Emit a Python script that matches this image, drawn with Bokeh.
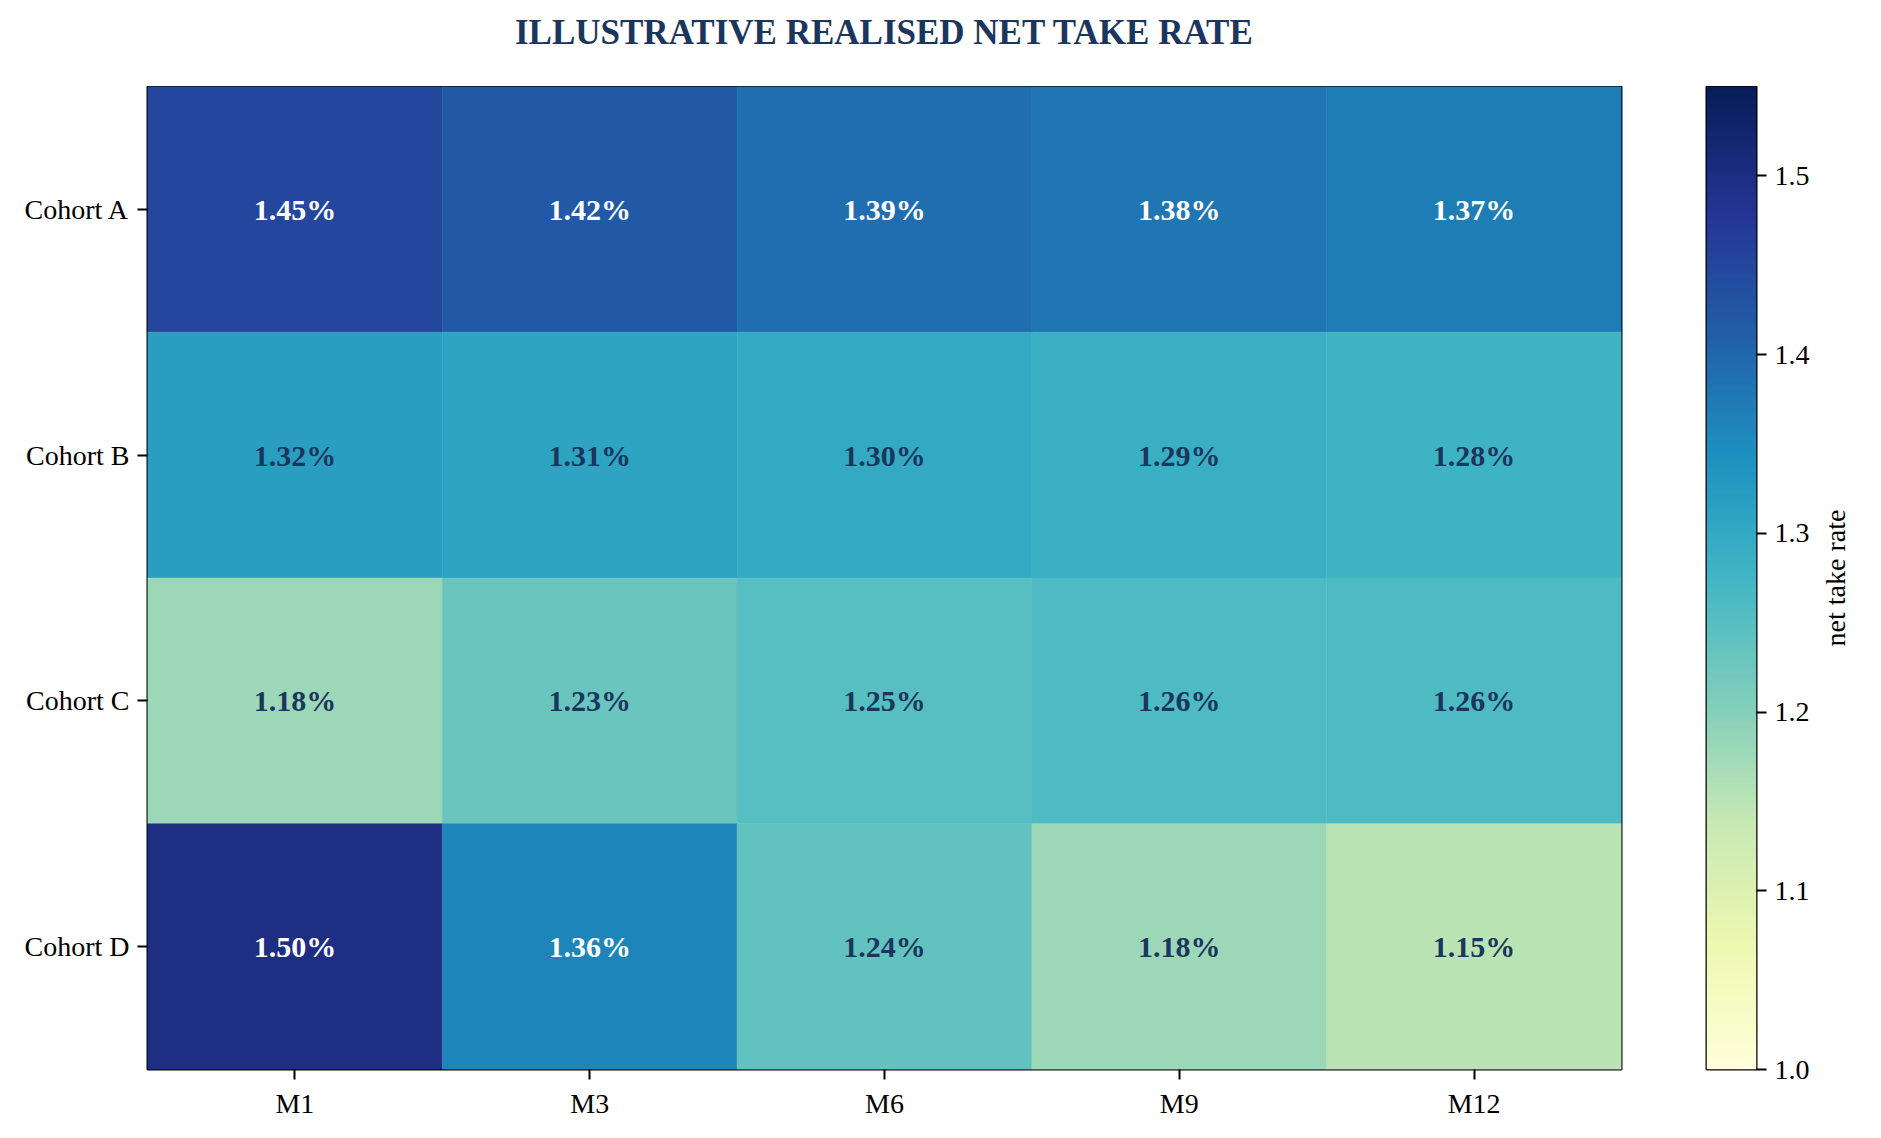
import numpy as np
from bokeh.plotting import figure
from bokeh.layouts import row, column
from bokeh.models import (ColumnDataSource, LinearColorMapper, FixedTicker,
                          PrintfTickFormatter, Range1d)
from bokeh.core.properties import value
from bokeh.embed import file_html
from bokeh.resources import INLINE

# ---------------- data ----------------
cohorts = ["Cohort A", "Cohort B", "Cohort C", "Cohort D"]
months = ["M1", "M3", "M6", "M9", "M12"]
cohort_a = [1.45, 1.42, 1.39, 1.38, 1.37]
cohort_b = [1.32, 1.31, 1.30, 1.29, 1.28]
cohort_c = [1.18, 1.23, 1.25, 1.26, 1.26]
cohort_d = [1.50, 1.36, 1.24, 1.18, 1.15]
cbar_ticks = [1.0, 1.1, 1.2, 1.3, 1.4, 1.5]
cbar_low = 1.0
cbar_high = 1.55
title_text = "ILLUSTRATIVE REALISED NET TAKE RATE"
cbar_label = "net take rate"

# ---------------- colormap (YlGnBu) ----------------
base = ['#ffffd9', '#edf8b1', '#c7e9b4', '#7fcdbb', '#41b6c4',
        '#1d91c0', '#225ea8', '#253494', '#081d58']
rgb = np.array([[int(c[i:i + 2], 16) for i in (1, 3, 5)] for c in base], float)
pos = np.linspace(0, 1, len(base))
t = np.linspace(0, 1, 256)
palette = ["#%02x%02x%02x" % tuple(int(round(np.interp(v, pos, rgb[:, k]))) for k in range(3))
           for v in t]
mapper = LinearColorMapper(palette=palette, low=cbar_low, high=cbar_high)

FONT = "Liberation Serif"
NAVY = "#1b365d"
TOP_H = 86
TICK_FS = "28px"

# ---------------- title strip ----------------
pt = figure(x_range=Range1d(0, 1), y_range=Range1d(0, TOP_H),
            frame_width=1474, frame_height=TOP_H,
            min_border_left=147, min_border_right=0, min_border_top=0, min_border_bottom=0,
            x_axis_location=None, y_axis_location=None,
            output_backend="svg", toolbar_location=None)
pt.grid.visible = False
pt.outline_line_color = None
pt.text(x=[0.5], y=[TOP_H - 32], text=[title_text], text_align="center",
        text_baseline="middle", text_font=value(FONT), text_font_size="35px",
        text_font_style="bold", text_color=NAVY)

# ---------------- heatmap ----------------
rows = {"Cohort A": cohort_a, "Cohort B": cohort_b, "Cohort C": cohort_c, "Cohort D": cohort_d}
xs, ys, vals, labels, tcolors = [], [], [], [], []
for c in cohorts:
    for m, v in zip(months, rows[c]):
        xs.append(m)
        ys.append(c)
        vals.append(v)
        labels.append(f"{v:.2f}%")
        tcolors.append("white" if v >= 1.35 else NAVY)
src = ColumnDataSource(dict(x=xs, y=ys, v=vals, label=labels, tc=tcolors))

p = figure(x_range=months, y_range=list(reversed(cohorts)),
           frame_width=1474, frame_height=983,
           min_border_left=147, min_border_top=0, min_border_bottom=58, min_border_right=33,
           output_backend="svg", toolbar_location=None)
p.rect(x="x", y="y", width=1, height=1, source=src,
       fill_color={"field": "v", "transform": mapper},
       line_color={"field": "v", "transform": mapper}, line_width=0.5)
p.text(x="x", y="y", text="label", source=src, text_color="tc",
       text_align="center", text_baseline="middle",
       text_font=value(FONT), text_font_size="30px", text_font_style="bold")

p.grid.visible = False
p.outline_line_color = "black"
p.outline_line_width = 2
p.outline_line_alpha = 1
for ax in (p.xaxis[0], p.yaxis[0]):
    ax.axis_line_color = None
    ax.major_tick_line_color = "black"
    ax.major_tick_line_width = 2
    ax.major_tick_out = 10
    ax.major_tick_in = 0
    ax.minor_tick_line_color = None
    ax.major_label_text_font = FONT
    ax.major_label_text_font_size = TICK_FS
    ax.major_label_text_color = "black"
    ax.major_label_standoff = 8
p.x_range.range_padding = 0
p.y_range.range_padding = 0

# ---------------- colorbar ----------------
p2 = figure(x_range=Range1d(0, 1), y_range=Range1d(cbar_low, cbar_high),
            frame_width=50, frame_height=983,
            min_border_left=52, min_border_top=0, min_border_bottom=58, min_border_right=55,
            y_axis_location="right",
            output_backend="svg", toolbar_location=None)
grad = np.linspace(cbar_low, cbar_high, 512).reshape(-1, 1)
p2.image(image=[grad], x=0, y=cbar_low, dw=1, dh=cbar_high - cbar_low, color_mapper=mapper)
p2.grid.visible = False
p2.xaxis.visible = False
p2.outline_line_color = "black"
p2.outline_line_width = 2
ya = p2.yaxis[0]
ya.ticker = FixedTicker(ticks=cbar_ticks)
ya.formatter = PrintfTickFormatter(format="%.1f")
ya.axis_line_color = None
ya.major_tick_line_color = "black"
ya.major_tick_line_width = 2
ya.major_tick_out = 10
ya.major_tick_in = 0
ya.minor_tick_line_color = None
ya.major_label_text_font = FONT
ya.major_label_text_font_size = TICK_FS
ya.major_label_text_color = "black"
ya.major_label_standoff = 8

# ---------------- colorbar label (left axis label of a thin strip) ----------------
p3 = figure(x_range=Range1d(0, 1), y_range=Range1d(cbar_low, cbar_high),
            frame_width=1, frame_height=983,
            min_border_left=38, min_border_top=0, min_border_bottom=58, min_border_right=0,
            output_backend="svg", toolbar_location=None)
p3.grid.visible = False
p3.xaxis.visible = False
p3.outline_line_color = None
la = p3.yaxis[0]
la.ticker = FixedTicker(ticks=[])
la.axis_line_color = None
la.major_tick_line_color = None
la.minor_tick_line_color = None
la.major_tick_out = 0
la.major_label_standoff = 0
la.axis_label = cbar_label
la.axis_label_standoff = 0
la.axis_label_text_font = FONT
la.axis_label_text_font_size = TICK_FS
la.axis_label_text_font_style = "normal"
la.axis_label_text_color = "black"

layout = column(pt, row(p, p2, p3))
open("out.html", "w").write(file_html(layout, INLINE))
